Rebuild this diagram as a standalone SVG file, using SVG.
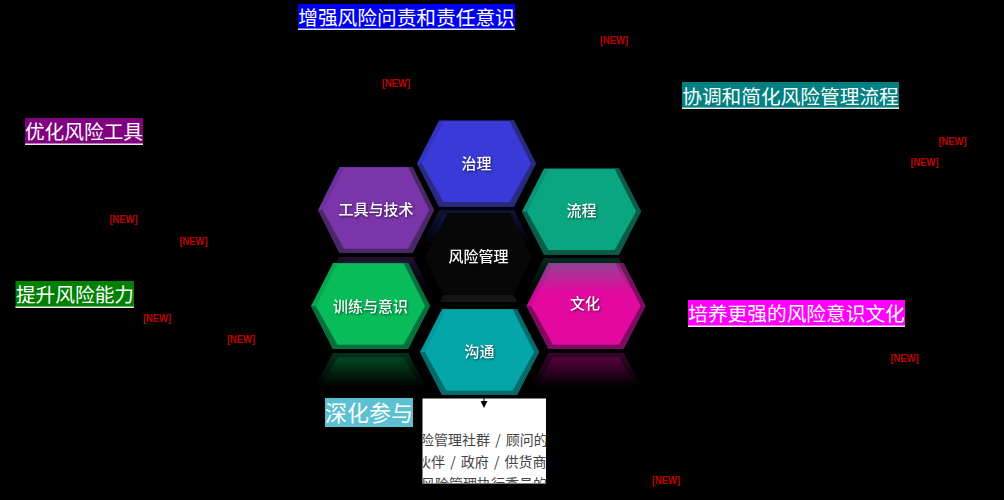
<svg xmlns="http://www.w3.org/2000/svg" width="1004" height="500" viewBox="0 0 1004 500">
<style>
text{font-family:"Noto Sans CJK SC","Noto Sans",sans-serif}
.bg{fill:#000}
.o{fill:var(--s)}
.f{fill:var(--f)}
.b{fill:var(--b)}
.l{fill:#fff;font-size:15px;font-weight:500;text-anchor:middle;filter:drop-shadow(1px 1px 1px rgba(0,0,0,.55))}
.c{fill:#fff;font-size:19.7px;text-anchor:middle}
.u{fill:#e8e8e8}
.n{fill:#c00000;font:bold 10px "Liberation Sans",Arial,sans-serif;text-anchor:middle}
.t{fill:#444;font-size:14px;word-spacing:2px}
.e{stroke:#000;stroke-width:1;fill:none}
</style>
<defs>
<g id="hex">
<polygon class="o" points="-59.5,0 -37.5,-43 37.5,-43 59.5,0 37.5,43 -37.5,43"/>
<polygon class="b" points="37.5,-43 59.5,0 37.5,43 -37.5,43 -59.5,0 -54.5,0 -33,38.500 33,38.500 54.500,0 33,-43"/>
<polygon class="f" points="-54.500,0 -33,-42 33,-42 54.500,0 33,38.500 -33,38.500"/>
</g>
<linearGradient id="fade" x1="0" y1="0" x2="0" y2="1"><stop offset="0" stop-color="#fff" stop-opacity=".45"/><stop offset="1" stop-color="#fff" stop-opacity="0"/></linearGradient>
<mask id="rm" maskUnits="userSpaceOnUse" x="-70" y="40" width="140" height="50"><rect x="-70" y="46" width="140" height="35" fill="url(#fade)"/></mask>
<g id="ref"><g mask="url(#rm)"><use href="#hex" transform="translate(0,90) scale(1,-1)"/></g></g>
<clipPath id="boxclip"><rect x="423" y="399" width="123" height="84"/></clipPath>
<marker id="ah" markerWidth="7" markerHeight="7" refX="0" refY="3.500" orient="auto" markerUnits="userSpaceOnUse"><path d="M0,0L7,3.500L0,7Z" fill="#000"/></marker>
</defs>
<rect class="bg" width="1004" height="500"/>

<g id="node-tools" transform="translate(376,210)" style="--s:#6f30a0;--f:#7a35a8;--b:#4a2868">
<g transform="scale(.975,1)"><use href="#ref"/><use href="#hex"/></g>
<text class="l" x="0" y="4.500">工具与技术</text>
</g>
<g id="node-governance" transform="translate(476.500,163.500)" style="--s:#3434c4;--f:#3a3ad8;--b:#2a2a80">
<use href="#ref"/><use href="#hex"/>
<text class="l" x="0" y="5">治理</text>
</g>
<g id="node-center" transform="translate(478.500,257)">
<polygon fill="#151515" points="-35,38 35,38 38.500,45 -38.500,45"/>
<polygon fill="#070707" points="-53.500,0 -31,-44 31,-44 53.500,0 35,38 -35,38"/>
<text class="l" x="0" y="4.500">风险管理</text>
</g>
<g id="node-training" transform="translate(370.500,306)" style="--s:#06a850;--f:#08bc5a;--b:#06703c">
<use href="#ref"/><use href="#hex"/>
<text class="l" x="0" y="6">训练与意识</text>
</g>
<g id="node-culture" transform="translate(586,306)" style="--s:#cc0a94;--f:#e4099e;--b:#7c0c60">
<use href="#ref"/><use href="#hex"/>
<text class="l" x="-1" y="3">文化</text>
</g>
<g id="node-process" transform="translate(581.500,211.500)" style="--s:#0a9478;--f:#0aa680;--b:#0a5c48">
<use href="#ref"/><use href="#hex"/>
<text class="l" x="0" y="4.500">流程</text>
</g>
<g id="node-comm" transform="translate(479.500,352)" style="--s:#049a9c;--f:#05a6a8;--b:#066a6c">
<use href="#hex"/>
<text class="l" x="0" y="5">沟通</text>
</g>

<g id="node-box">
<rect x="422.500" y="398.500" width="123.500" height="85" fill="#fff"/>
<g clip-path="url(#boxclip)">
<text class="t" x="420" y="445">险管理社群 / 顾问的</text>
<text class="t" x="417" y="467">伙伴 / 政府 / 供货商</text>
<text class="t" x="421" y="489">风险管理执行委员的</text>
</g>
</g>

<g id="connectors">
<line class="e" x1="484" y1="395" x2="484" y2="401" marker-end="url(#ah)"/>
</g>

<g id="callout-accountability"><rect x="298" y="4" width="217" height="26" fill="#0000f0"/><rect class="u" x="298" y="28.500" width="217" height="1.500"/><text class="c" x="406.500" y="25">增强风险问责和责任意识</text></g>
<g id="callout-tools"><rect x="25" y="118" width="118" height="27" fill="#800080"/><rect class="u" x="25" y="143.500" width="118" height="1.500"/><text class="c" x="84" y="139">优化风险工具</text></g>
<g id="callout-capability"><rect x="15.500" y="281" width="118.500" height="27" fill="#008000"/><rect class="u" x="15.500" y="306.500" width="118.500" height="1.500"/><text class="c" x="75" y="302">提升风险能力</text></g>
<g id="callout-process"><rect x="682" y="82" width="217" height="27" fill="#008080"/><rect class="u" x="682" y="107.500" width="217" height="1.500"/><text class="c" x="790.500" y="104">协调和简化风险管理流程</text></g>
<g id="callout-culture"><rect x="688" y="300" width="217" height="27" fill="#ff00ff"/><rect class="u" x="688" y="325.500" width="217" height="1.500"/><text class="c" x="796.500" y="321">培养更强的风险意识文化</text></g>
<g id="callout-engage"><rect x="325" y="398" width="88" height="29" fill="#5bc0d0"/><text class="c" style="font-size:22px" x="369" y="421">深化参与</text></g>

<g id="tags">
<text class="n" textLength="28" lengthAdjust="spacingAndGlyphs" x="614" y="44">[NEW]</text>
<text class="n" textLength="28" lengthAdjust="spacingAndGlyphs" x="396" y="87">[NEW]</text>
<text class="n" textLength="28" lengthAdjust="spacingAndGlyphs" x="952.500" y="145">[NEW]</text>
<text class="n" textLength="28" lengthAdjust="spacingAndGlyphs" x="924.500" y="166">[NEW]</text>
<text class="n" textLength="28" lengthAdjust="spacingAndGlyphs" x="123.500" y="223">[NEW]</text>
<text class="n" textLength="28" lengthAdjust="spacingAndGlyphs" x="193.500" y="245">[NEW]</text>
<text class="n" textLength="28" lengthAdjust="spacingAndGlyphs" x="157" y="322">[NEW]</text>
<text class="n" textLength="28" lengthAdjust="spacingAndGlyphs" x="241" y="343">[NEW]</text>
<text class="n" textLength="28" lengthAdjust="spacingAndGlyphs" x="904.500" y="362">[NEW]</text>
<text class="n" textLength="28" lengthAdjust="spacingAndGlyphs" x="666" y="484">[NEW]</text>
</g>
</svg>
